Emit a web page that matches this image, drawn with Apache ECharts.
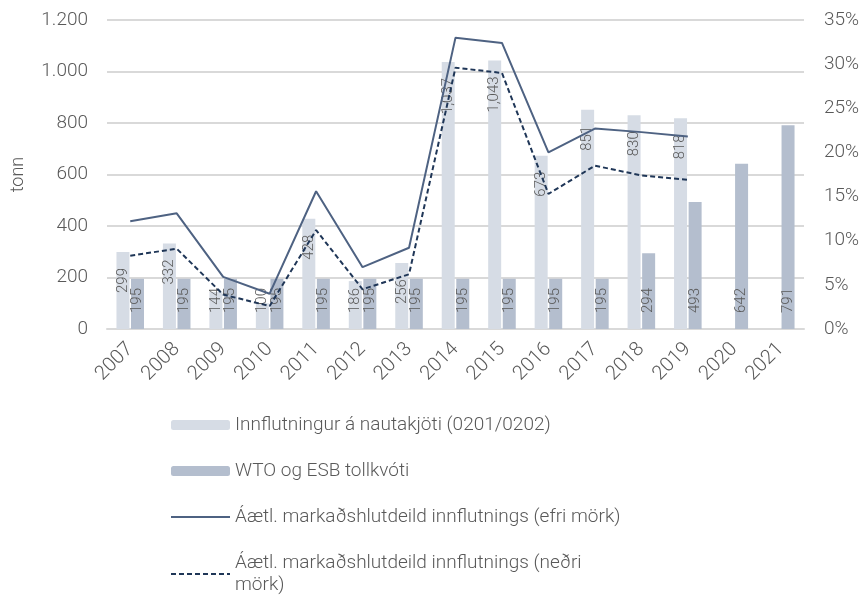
<!DOCTYPE html>
<html>
<head>
<meta charset="utf-8">
<script src="https://cdn.jsdelivr.net/npm/echarts@6/dist/echarts.min.js"></script>
<style>
  html, body { margin: 0; padding: 0; background: #fff; }
  #chart { width: 864px; height: 598px; }
</style>
</head>
<body>
<div id="chart"></div>
<script>
const years = ['2007', '2008', '2009', '2010', '2011', '2012', '2013', '2014', '2015', '2016', '2017', '2018', '2019', '2020', '2021']
const importTonnes = [299, 332, 144, 100, 428, 186, 256, 1037, 1043, 673, 851, 830, 818, null, null]
const quotaTonnes = [195, 195, 195, 195, 195, 195, 195, 195, 195, 195, 195, 294, 493, 642, 791]
// markaðshlutdeild í %
const shareUpper = [12.2, 13.1, 5.9, 4.0, 15.6, 7.0, 9.2, 33.0, 32.4, 20.0, 22.7, 22.3, 21.8, null, null]
const shareLower = [8.3, 9.1, 3.9, 2.6, 11.2, 4.5, 6.2, 29.6, 29.0, 15.3, 18.5, 17.4, 16.9, null, null]

const seriesNames = [
  'Innflutningur á nautakjöti (0201/0202)',
  'WTO og ESB tollkvóti',
  'Áætl. markaðshlutdeild innflutnings (efri mörk)',
  'Áætl. markaðshlutdeild innflutnings (neðri mörk)'
]

const FONT = 'Roboto'
const TXT = '#595959'

const chart = echarts.init(document.getElementById('chart'))

// litlar súlur fá merkið neðst
const importData = importTonnes.map(v => {
  if (v === null) return null
  if (v < 200) {
    return { value: v, label: { position: 'insideBottom', align: 'left', distance: 16 } }
  }
  return v
})

const option = {
  animation: false,
  textStyle: { fontFamily: FONT },
  grid: { left: 107, right: 60, top: 20, bottom: 269 },
  legend: {
    orient: 'vertical',
    left: 170,
    top: 414,
    height: 240,
    padding: 0,
    itemWidth: 59,
    itemHeight: 10,
    itemGap: 24,
    textStyle: {
      fontFamily: FONT,
      fontWeight: 300,
      fontSize: 19,
      color: TXT,
      width: 420,
      overflow: 'break',
      lineHeight: 22
    },
    data: [
      { name: seriesNames[0] },
      { name: seriesNames[1] },
      { name: seriesNames[2], itemStyle: { opacity: 0 } },
      { name: seriesNames[3], itemStyle: { opacity: 0 } }
    ]
  },
  xAxis: {
    type: 'category',
    data: years,
    axisLine: { lineStyle: { color: '#D9D9D9', width: 2 } },
    axisTick: { show: false },
    axisLabel: {
      rotate: 45,
      fontSize: 20,
      fontWeight: 300,
      color: TXT,
      margin: 17
    }
  },
  yAxis: [
    {
      type: 'value',
      min: 0,
      max: 1200,
      interval: 200,
      name: 'tonn',
      nameLocation: 'middle',
      nameGap: 80,
      nameRotate: 90,
      nameTextStyle: { fontSize: 18, fontWeight: 300, color: TXT },
      axisLabel: {
        fontSize: 19,
        fontWeight: 300,
        color: TXT,
        margin: 19,
        formatter: v => v.toLocaleString('de-DE')
      },
      splitLine: { lineStyle: { color: '#D9D9D9', width: 2 } }
    },
    {
      type: 'value',
      min: 0,
      max: 35,
      interval: 5,
      axisLabel: {
        fontSize: 19,
        fontWeight: 300,
        color: TXT,
        margin: 20,
        formatter: '{value}%'
      },
      splitLine: { show: false }
    }
  ],
  series: [
    {
      name: seriesNames[0],
      type: 'bar',
      data: importData,
      barWidth: 13,
      barGap: '12%',
      itemStyle: { color: '#D6DCE5' },
      label: {
        show: true,
        position: 'insideTop',
        distance: 16,
        rotate: 90,
        align: 'right',
        verticalAlign: 'middle',
        fontSize: 15,
        fontWeight: 300,
        color: TXT,
        formatter: p => p.value.toLocaleString('en-US')
      }
    },
    {
      name: seriesNames[1],
      type: 'bar',
      data: quotaTonnes,
      barWidth: 13,
      itemStyle: { color: '#B4BECE' },
      label: {
        show: true,
        position: 'insideBottom',
        distance: 16,
        rotate: 90,
        align: 'left',
        verticalAlign: 'middle',
        fontSize: 15,
        fontWeight: 300,
        color: TXT
      }
    },
    {
      name: seriesNames[2],
      type: 'line',
      yAxisIndex: 1,
      data: shareUpper,
      symbol: 'none',
      lineStyle: { color: '#4E6282', width: 2 },
      itemStyle: { color: '#4E6282' }
    },
    {
      name: seriesNames[3],
      type: 'line',
      yAxisIndex: 1,
      data: shareLower,
      symbol: 'none',
      lineStyle: { color: '#1F3657', width: 2, type: [5, 3] },
      itemStyle: { color: '#1F3657' }
    }
  ]
}

chart.setOption(option)
</script>
</body>
</html>
